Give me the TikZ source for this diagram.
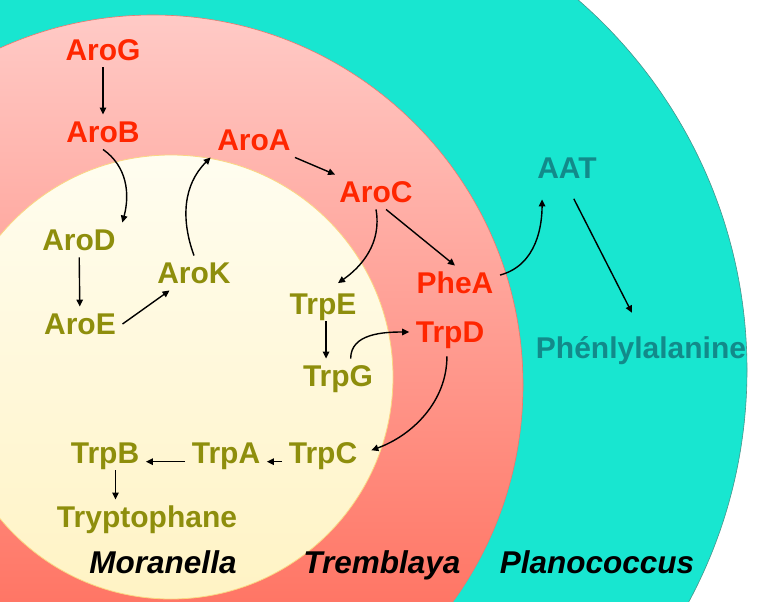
\documentclass[tikz,border=0pt]{standalone}
\usepackage{fontspec}
\setmainfont{Liberation Sans}
\usetikzlibrary{arrows.meta}

\definecolor{tealfill}{RGB}{24,230,208}
\definecolor{tealline}{RGB}{70,150,140}
\definecolor{pinktop}{RGB}{255,202,198}
\definecolor{pinkbot}{RGB}{255,96,76}
\definecolor{pinkline}{RGB}{235,120,110}
\definecolor{creamtop}{RGB}{255,253,240}
\definecolor{creambot}{RGB}{255,243,196}
\definecolor{creamline}{RGB}{250,215,130}
\definecolor{trered}{RGB}{255,38,0}
\definecolor{morolive}{RGB}{142,142,12}
\definecolor{platext}{RGB}{18,138,138}

\begin{document}
\begin{tikzpicture}[x=1pt,y=-1pt]
\path[use as bounding box] (0,0) rectangle (766,602);
\clip (0,0) rectangle (766,602);

\tikzstyle{every node}+=[inner sep=6pt,text height=21.5pt,text depth=0pt,font=\fontsize{30}{36}\selectfont\bfseries]
\tikzstyle{every path}+=[line width=1.4pt]
\tikzstyle{tre}=[text=trered]
\tikzstyle{mor}=[text=morolive]
\tikzstyle{pla}=[text=platext]
\tikzstyle{sp}=[font=\fontsize{31.5}{36}\selectfont\bfseries\itshape]
\tikzstyle{arr}=[draw,-{Triangle[length=7pt,width=6.5pt]}]

\fill[white] (0,0) rectangle (766,602);
\path[fill=tealfill,draw=tealline,line width=0.6pt] (257,370) circle (490pt);
\path[top color=pinktop,bottom color=pinkbot,draw=pinkline,line width=0.6pt] (153,385) circle (370pt);
\path[top color=creamtop,bottom color=creambot,draw=creamline,line width=0.8pt] (171,377) circle (222pt);

\node[tre] (aroG) at (103,50) {AroG};
\node[tre] (aroB) at (103,132) {AroB};
\node[tre] (aroA) at (254,140) {AroA};
\node[tre] (aroC) at (376,192) {AroC};
\node[tre] (pheA) at (455,283) {PheA};
\node[tre] (trpD) at (450,332) {TrpD};
\node[mor] (aroD) at (79,240) {AroD};
\node[mor] (aroK) at (194,273) {AroK};
\node[mor] (aroE) at (80,324) {AroE};
\node[mor] (trpE) at (323,304) {TrpE};
\node[mor] (trpG) at (338,376) {TrpG};
\node[mor] (trpC) at (323,453) {TrpC};
\node[mor] (trpA) at (226,453) {TrpA};
\node[mor] (trpB) at (105,453) {TrpB};
\node[mor] (tryp) at (147,517) {Tryptophane};
\node[pla] (aaT) at (567,168) {AAT};
\node[pla] (phen) at (641,348) {Phénlylalanine};

\node[sp] (mora) at (163,563) {Moranella};
\node[sp] (trem) at (382,563) {Tremblaya};
\node[sp] (plan) at (597,563) {Planococcus};

\path (aroG) edge[arr] (aroB)
      (aroB.south) edge[arr,out=-35,in=75] (aroD.north east)
      (aroD) edge[arr] (aroE)
      (aroE.east) edge[arr] (aroK)
      (aroK.north) edge[arr,out=110,in=225] (aroA.south west)
      (aroA) edge[arr] (aroC)
      (aroC.south) edge[arr,out=-80,in=35,shorten >=6pt] (trpE.60)
      (aroC.-60) edge[arr] (pheA.north)
      (pheA.10) edge[arr,out=15,in=-90,shorten >=14pt] (aaT.215)
      (aaT.south) edge[arr,shorten <=15pt,shorten >=20pt] (phen.north)
      (trpE.-80) edge[arr] (trpE.-80 |- trpG.north)
      (trpG.54) edge[arr,out=90,in=180] (trpD.west)
      (trpD.-100) edge[arr,out=-90,in=20,shorten <=7pt,shorten >=8pt] (trpC.east)
      (trpC.192) edge[arr] (trpA.-12)
      (trpA.192) edge[arr] (trpB.-12)
      (trpB.-59) edge[arr] (trpB.-59 |- tryp.north);
\end{tikzpicture}
\end{document}
